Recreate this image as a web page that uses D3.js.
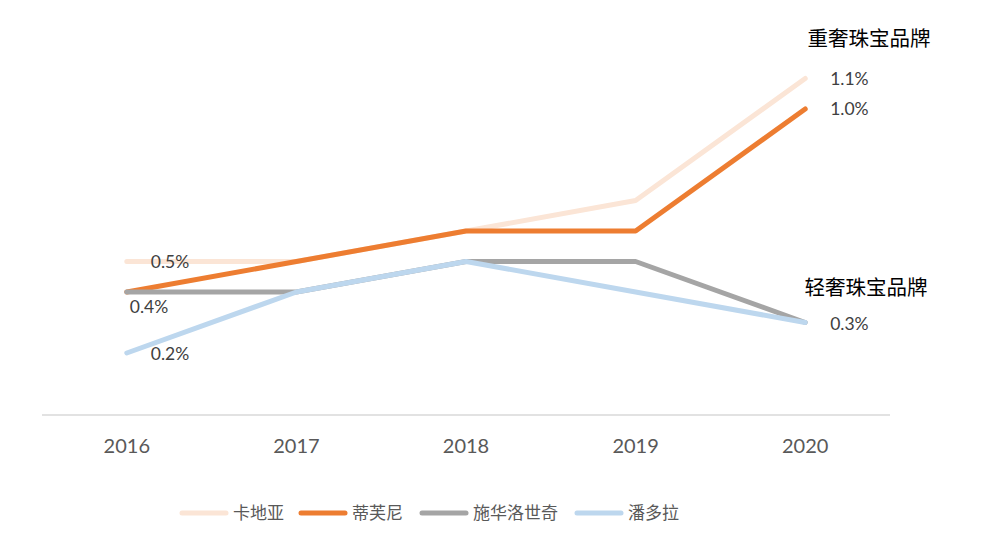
<!DOCTYPE html>
<html>
<head>
<meta charset="utf-8">
<script src="https://cdn.jsdelivr.net/npm/d3@7"></script>
<style>
  body { margin: 0; background: #fff; }
  text { font-family: Lato, "Noto Sans CJK SC", sans-serif; }
</style>
</head>
<body>
<svg id="chart"></svg>
<script>
const width = 991, height = 549;

// données (part en %)
const years = ["2016", "2017", "2018", "2019", "2020"];
const brands = ["卡地亚", "蒂芙尼", "施华洛世奇", "潘多拉"];
const cartier = [0.5, 0.5, 0.6, 0.7, 1.1];
const tiffany = [0.4, 0.5, 0.6, 0.6, 1.0];
const swarovski = [0.4, 0.4, 0.5, 0.5, 0.3];
const pandora = [0.2, 0.4, 0.5, 0.4, 0.3];
const colors = ["#FBE5D6", "#ED7D31", "#A5A5A5", "#BDD7EE"];

const series = [cartier, tiffany, swarovski, pandora].map((v, i) => ({ name: brands[i], values: v, color: colors[i] }));

const svg = d3.select("#chart")
    .attr("width", width)
    .attr("height", height);

const x = d3.scaleBand().domain(years).range([42, 890]);
const y = d3.scaleLinear().domain([0, 1.2]).range([414, 48]);
const cx = d => x(d) + x.bandwidth() / 2;

// axe horizontal
svg.append("line")
    .attr("x1", 42).attr("x2", 890)
    .attr("y1", 415).attr("y2", 415)
    .attr("stroke", "#D9D9D9").attr("stroke-width", 1.5);

svg.selectAll(".year")
    .data(years)
    .enter().append("text")
    .attr("class", "year")
    .attr("x", d => cx(d))
    .attr("y", 453)
    .attr("text-anchor", "middle")
    .attr("font-size", 20)
    .attr("fill", "#595959")
    .text(d => d);

const line = d3.line()
    .x((d, i) => cx(years[i]))
    .y(d => y(d));

svg.selectAll(".serie")
    .data(series)
    .enter().append("path")
    .attr("class", "serie")
    .attr("d", d => line(d.values))
    .attr("fill", "none")
    .attr("stroke", d => d.color)
    .attr("stroke-width", 5)
    .attr("stroke-linecap", "round")
    .attr("stroke-linejoin", "round");

// étiquettes de valeurs
const labels = [
    { s: 0, i: 0, dx: 24, dy: 6 },
    { s: 1, i: 0, dx: 3, dy: 21 },
    { s: 3, i: 0, dx: 24, dy: 7 },
    { s: 0, i: 4, dx: 25, dy: 6 },
    { s: 1, i: 4, dx: 25, dy: 6 },
    { s: 3, i: 4, dx: 25, dy: 7 }
];
svg.selectAll(".val")
    .data(labels)
    .enter().append("text")
    .attr("class", "val")
    .attr("x", d => cx(years[d.i]) + d.dx)
    .attr("y", d => y(series[d.s].values[d.i]) + d.dy)
    .attr("font-size", 17.5)
    .attr("fill", "#404040")
    .text(d => series[d.s].values[d.i].toFixed(1) + "%");

// titres des groupes
svg.append("text")
    .attr("x", 869).attr("y", 46)
    .attr("text-anchor", "middle")
    .attr("font-size", 20.5)
    .attr("fill", "#000")
    .text("重奢珠宝品牌");
svg.append("text")
    .attr("x", 866).attr("y", 295)
    .attr("text-anchor", "middle")
    .attr("font-size", 20.5)
    .attr("fill", "#000")
    .text("轻奢珠宝品牌");

// légende
const legendX = [180, 299, 420, 575];
const legend = svg.selectAll(".legend")
    .data(series)
    .enter().append("g")
    .attr("class", "legend")
    .attr("transform", (d, i) => `translate(${legendX[i]},513)`);
legend.append("line")
    .attr("x1", 2).attr("x2", 46)
    .attr("stroke", d => d.color)
    .attr("stroke-width", 5)
    .attr("stroke-linecap", "round");
legend.append("text")
    .attr("x", 53).attr("y", 6)
    .attr("font-size", 17)
    .attr("fill", "#595959")
    .text(d => d.name);
</script>
</body>
</html>
